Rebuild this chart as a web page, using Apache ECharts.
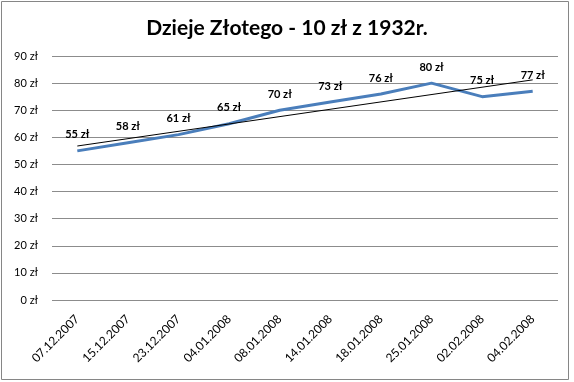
<!DOCTYPE html>
<html>
<head>
<meta charset="utf-8">
<script src="https://cdn.jsdelivr.net/npm/echarts@6/dist/echarts.min.js"></script>
<style>
html,body{margin:0;padding:0;background:#fff;}
#c{width:574px;height:382px;}
</style>
</head>
<body>
<div id="c"></div>
<script>
const categories = ['07.12.2007','15.12.2007','23.12.2007','04.01.2008','08.01.2008','14.01.2008','18.01.2008','25.01.2008','02.02.2008','04.02.2008'];
const values = [55, 58, 61, 65, 70, 73, 76, 80, 75, 77];
// trend line endpoints (first and last category)
const trendValues = [56.8, 81.2];
const yTicks = [0, 10, 20, 30, 40, 50, 60, 70, 80, 90];

const FONT = 'Lato, "Open Sans", sans-serif';
const chart = echarts.init(document.getElementById('c'), null, {renderer: 'canvas'});
chart.setOption({
  animation: false,
  backgroundColor: '#fff',
  title: {
    text: 'Dzieje Złotego - 10 zł z 1932r.',
    left: 'center',
    top: 13,
    textStyle: {fontFamily: FONT, fontSize: 21, fontWeight: 'bold', color: '#000'}
  },
  graphic: [{
    type: 'rect',
    shape: {x: 1.5, y: 1.5, width: 567, height: 378},
    style: {fill: 'none', stroke: '#868686', lineWidth: 1},
    silent: true
  }],
  grid: {left: 52, right: 16, top: 56, bottom: 82, containLabel: false},
  xAxis: {
    type: 'category',
    data: categories,
    boundaryGap: true,
    axisLine: {show: false},
    axisTick: {show: false},
    axisLabel: {rotate: 45, fontFamily: FONT, fontSize: 12, color: '#000', margin: 17, interval: 0}
  },
  yAxis: {
    type: 'value',
    min: yTicks[0],
    max: yTicks[yTicks.length - 1],
    interval: 10,
    axisLine: {show: false},
    axisTick: {show: false},
    axisLabel: {fontFamily: FONT, fontSize: 11, color: '#000', margin: 14, formatter: v => v + ' zł'},
    splitLine: {lineStyle: {color: '#8c8c8c', width: 1}}
  },
  series: [
    {
      type: 'line',
      data: values,
      symbol: 'circle',
      symbolSize: 1,
      showSymbol: true,
      itemStyle: {color: 'rgba(0,0,0,0)'},
      lineStyle: {color: '#4a7ebb', width: 3},
      label: {
        show: true,
        position: 'top',
        distance: 10,
        formatter: p => p.value + ' zł',
        fontFamily: FONT, fontSize: 11, fontWeight: 'bold', color: '#000'
      },
      labelLayout: {hideOverlap: false},
      z: 3
    },
    {
      type: 'line',
      data: [[categories[0], trendValues[0]], [categories[categories.length - 1], trendValues[1]]],
      symbol: 'none',
      lineStyle: {color: '#000', width: 1},
      z: 4
    }
  ]
});
</script>
</body>
</html>
